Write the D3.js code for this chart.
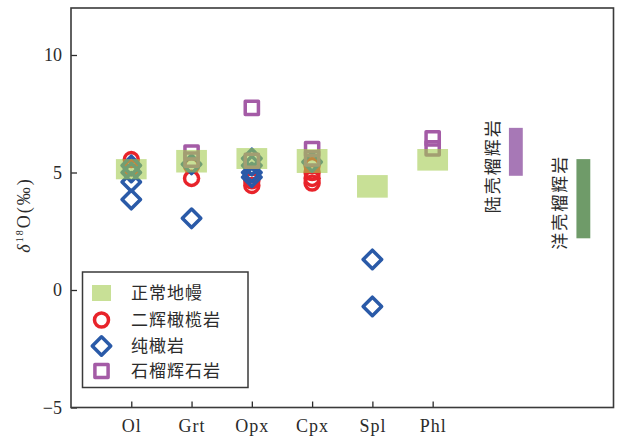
<!DOCTYPE html>
<html>
<head>
<meta charset="utf-8">
<script src="https://cdn.jsdelivr.net/npm/d3@7"></script>
<style>
  html, body { margin: 0; padding: 0; background: #fff; }
  svg { display: block; }
</style>
</head>
<body>
<svg id="chart" width="617" height="436"></svg>
<script>
// Minerals on the x axis (positions 1..6)
const minerals = ["Ol", "Grt", "Opx", "Cpx", "Spl", "Phl"];
// Normal mantle δ18O ranges per mineral
const mantleLow  = [4.71, 5.00, 5.15, 4.98, 3.93, 5.08];
const mantleHigh = [5.57, 5.96, 6.04, 6.00, 4.89, 6.00];
// Lherzolite (二辉橄榄岩) measurements: [mineral, δ18O]
const lherzolite = [
  ["Ol", 5.55], ["Ol", 5.2],
  ["Grt", 4.75], ["Grt", 5.3],
  ["Opx", 4.45], ["Opx", 4.65], ["Opx", 4.9],
  ["Cpx", 4.55], ["Cpx", 4.75], ["Cpx", 5.0], ["Cpx", 5.3]
];
// Dunite (纯橄岩) measurements
const dunite = [
  ["Ol", 5.3], ["Ol", 5.0], ["Ol", 4.6], ["Ol", 3.85],
  ["Grt", 5.35], ["Grt", 3.05],
  ["Opx", 5.6], ["Opx", 5.3], ["Opx", 5.0], ["Opx", 4.8],
  ["Cpx", 5.45],
  ["Spl", 1.3], ["Spl", -0.7]
];
// Garnet pyroxenite (石榴辉石岩) measurements
const pyroxenite = [
  ["Grt", 5.85], ["Grt", 5.55],
  ["Opx", 7.75], ["Opx", 5.5],
  ["Cpx", 6.0], ["Cpx", 5.6],
  ["Phl", 6.45], ["Phl", 6.03]
];
// Eclogite reference ranges
const eclogiteNames = ["陆壳榴辉岩", "洋壳榴辉岩"];
const eclogitePos   = [7.38, 8.5];
const eclogiteLow   = [4.86, 2.2];
const eclogiteHigh  = [6.9, 5.57];
// Axis ticks
const yTicks = [-5, 0, 5, 10];
const legendLabels = ["正常地幔", "二辉橄榄岩", "纯橄岩", "石榴辉石岩"];

const svg = d3.select("#chart");
const plotLeft = 71, plotRight = 613.5, plotTop = 8, plotBottom = 407.5;

const x = d3.scaleLinear().domain([0, 9]).range([plotLeft, plotRight]);
const y = d3.scaleLinear().domain([-5, 12]).range([plotBottom, plotTop]);
const xOf = m => x(minerals.indexOf(m) + 1);

const serif = "'Liberation Serif', 'DejaVu Serif', serif";
const cjk = "'Noto Sans CJK SC', 'Noto Sans', sans-serif";
const ink = "#2b2b2b";

const red = "#e8232a", blue = "#2a5aa8", purple = "#a45ba6";
const mantleFill = "#a3cb50";

const circle = d3.symbol().type(d3.symbolCircle).size(154)();
const square = d3.symbol().type(d3.symbolSquare).size(174)();
const diamond = d3.symbol().type(d3.symbolSquare).size(171)();

// Data markers
const plot = svg.append("g");
plot.selectAll("path.lherz").data(lherzolite).join("path")
  .attr("class", "lherz")
  .attr("d", circle)
  .attr("transform", d => `translate(${xOf(d[0])},${y(d[1])})`)
  .attr("fill", "none").attr("stroke", red).attr("stroke-width", 3.5);

plot.selectAll("path.dun").data(dunite).join("path")
  .attr("class", "dun")
  .attr("d", diamond)
  .attr("transform", d => `translate(${xOf(d[0])},${y(d[1])}) rotate(45)`)
  .attr("fill", "none").attr("stroke", blue).attr("stroke-width", 3.5)
  .attr("stroke-linejoin", "round");

plot.selectAll("path.pyx").data(pyroxenite).join("path")
  .attr("class", "pyx")
  .attr("d", square)
  .attr("transform", d => `translate(${xOf(d[0])},${y(d[1])})`)
  .attr("fill", "none").attr("stroke", purple).attr("stroke-width", 3.5)
  .attr("stroke-linejoin", "round");

// Normal mantle ranges, translucent over the markers
const halfW = 0.255;
plot.selectAll("rect.mantle").data(minerals).join("rect")
  .attr("class", "mantle")
  .attr("x", (d, i) => x(i + 1 - halfW))
  .attr("width", (d, i) => x(i + 1 + halfW) - x(i + 1 - halfW))
  .attr("y", (d, i) => y(mantleHigh[i]))
  .attr("height", (d, i) => y(mantleLow[i]) - y(mantleHigh[i]))
  .attr("fill", mantleFill).attr("fill-opacity", 0.6);

// Eclogite bars
const barColors = ["#a778b6", "#6f9b69"];
const barHalf = 0.115;
plot.selectAll("rect.ecl").data(eclogiteNames).join("rect")
  .attr("class", "ecl")
  .attr("x", (d, i) => x(eclogitePos[i] - barHalf))
  .attr("width", (d, i) => x(eclogitePos[i] + barHalf) - x(eclogitePos[i] - barHalf))
  .attr("y", (d, i) => y(eclogiteHigh[i]))
  .attr("height", (d, i) => y(eclogiteLow[i]) - y(eclogiteHigh[i]))
  .attr("fill", (d, i) => barColors[i]);

// Vertical labels beside the bars
const labelShift = [14, 3.5];
plot.selectAll("text.ecl").data(eclogiteNames).join("text")
  .attr("class", "ecl")
  .attr("transform", (d, i) => {
    const cx = x(eclogitePos[i]) - 23;
    const cy = (y(eclogiteHigh[i]) + y(eclogiteLow[i])) / 2 + labelShift[i];
    return `translate(${cx},${cy}) rotate(-90)`;
  })
  .attr("text-anchor", "middle").attr("dy", "0.36em")
  .attr("font-family", cjk).attr("font-size", 17).attr("letter-spacing", 2)
  .attr("fill", ink)
  .text(d => d);

// Axes with inward ticks
const yAxis = d3.axisLeft(y).tickValues(yTicks).tickSize(-6).tickPadding(9)
  .tickFormat(d => d < 0 ? "\u2212" + Math.abs(d) : String(d));
const gy = svg.append("g").attr("transform", `translate(${plotLeft},0)`).call(yAxis);
gy.select(".domain").remove();
gy.selectAll("line").attr("stroke", ink).attr("stroke-width", 1.3);
gy.selectAll("text").attr("font-family", serif).attr("font-size", 18).attr("fill", ink);

const xAxis = d3.axisBottom(x).tickValues(minerals.map((m, i) => i + 1))
  .tickFormat(d => minerals[d - 1]).tickSize(-6).tickPadding(12);
const gx = svg.append("g").attr("transform", `translate(0,${plotBottom})`).call(xAxis);
gx.select(".domain").remove();
gx.selectAll("line").attr("stroke", ink).attr("stroke-width", 1.3);
gx.selectAll("text").attr("font-family", serif).attr("font-size", 18)
  .attr("letter-spacing", 1).attr("fill", ink);

// Frame
svg.append("rect")
  .attr("x", plotLeft).attr("y", plotTop)
  .attr("width", plotRight - plotLeft).attr("height", plotBottom - plotTop)
  .attr("fill", "none").attr("stroke", "#3a3a3a").attr("stroke-width", 1.6);

// Y axis title δ18O(‰)
const yt = svg.append("text")
  .attr("transform", `translate(30,215) rotate(-90)`)
  .attr("text-anchor", "middle")
  .attr("font-family", serif).attr("font-size", 18).attr("fill", ink)
  .attr("letter-spacing", 2);
yt.append("tspan").attr("font-style", "italic").text("δ");
yt.append("tspan").attr("font-size", 10).attr("dy", -7).text("18");
yt.append("tspan").attr("dy", 7).text("O(‰)");

// Legend
const lg = svg.append("g");
lg.append("rect")
  .attr("x", 82.5).attr("y", 272).attr("width", 165.5).attr("height", 115.5)
  .attr("fill", "#fff").attr("stroke", "#3a3a3a").attr("stroke-width", 1.5);
const rowY = [293, 320, 346, 371];
const mx = 101.5;
lg.append("rect").attr("x", mx - 9.5).attr("y", rowY[0] - 8).attr("width", 19).attr("height", 16)
  .attr("fill", "#c8e096");
lg.append("path").attr("d", circle).attr("transform", `translate(${mx},${rowY[1]})`)
  .attr("fill", "none").attr("stroke", red).attr("stroke-width", 3.5);
lg.append("path").attr("d", diamond).attr("transform", `translate(${mx},${rowY[2]}) rotate(45)`)
  .attr("fill", "none").attr("stroke", blue).attr("stroke-width", 3.5).attr("stroke-linejoin", "round");
lg.append("path").attr("d", square).attr("transform", `translate(${mx},${rowY[3]})`)
  .attr("fill", "none").attr("stroke", purple).attr("stroke-width", 3.5).attr("stroke-linejoin", "round");
lg.selectAll("text").data(legendLabels).join("text")
  .attr("x", 131).attr("y", (d, i) => rowY[i]).attr("dy", "0.36em")
  .attr("font-family", cjk).attr("font-size", 17).attr("letter-spacing", 1)
  .attr("fill", ink)
  .text(d => d);
</script>
</body>
</html>
